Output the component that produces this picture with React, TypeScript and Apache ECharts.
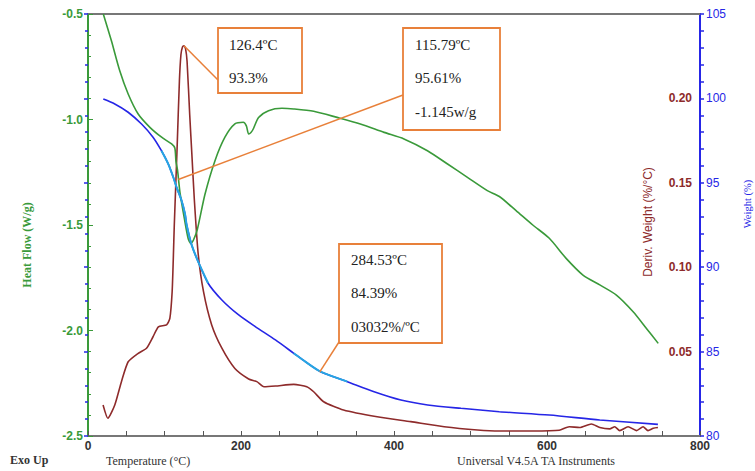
import React, { useEffect, useRef } from 'react';
import * as echarts from 'echarts';

// Heat flow (W/g) vs temperature (°C)
const heatT = [20, 30.6, 41.5, 52.5, 65.6, 80.9, 96.2, 109.3, 113.5, 115, 117, 120.3, 126, 131, 134.5, 138, 143, 153, 166, 179, 192, 203, 207, 210, 213, 216, 223, 236, 253.5, 269, 295, 325.6, 356, 387, 413, 443.7, 470, 496, 522, 537.7, 559.6, 581.4, 603, 625, 647, 669, 690.7, 712.6, 730, 745.4];
const heatV = [-0.5, -0.627, -0.769, -0.879, -0.974, -1.037, -1.084, -1.116, -1.135, -1.2, -1.239, -1.348, -1.47, -1.565, -1.587, -1.57, -1.52, -1.353, -1.195, -1.084, -1.021, -1.013, -1.03, -1.069, -1.062, -1.045, -0.99, -0.958, -0.947, -0.95, -0.961, -0.99, -1.021, -1.061, -1.092, -1.148, -1.211, -1.274, -1.337, -1.365, -1.432, -1.5, -1.563, -1.658, -1.737, -1.784, -1.832, -1.911, -1.99, -2.061];

// Weight (%) vs temperature (°C)
const weightT = [20, 35, 52.5, 70, 85, 96, 105, 111.5, 115.8, 122.4, 126.8, 129, 135.5, 144, 157, 175, 197, 218.6, 245, 269, 284.5, 304, 339, 374, 409, 444, 487.5, 537.7, 603, 669, 745];
const weightV = [99.96, 99.67, 99.18, 98.48, 97.7, 96.9, 96.11, 95.33, 94.73, 93.94, 93.15, 92.5, 91.32, 90.33, 89.05, 88.06, 87.17, 86.48, 85.69, 84.9, 84.39, 83.81, 83.22, 82.62, 82.13, 81.84, 81.64, 81.44, 81.24, 80.95, 80.69];

// Highlighted (cyan) temperature ranges on the weight curve
const highlightRanges = [[96, 157], [260, 345]];

// Derivative weight (%/°C) vs temperature (°C)
const derivT = [19.7, 26, 35, 43.7, 52.5, 65.6, 76.5, 85, 92, 102.7, 107, 110, 111.5, 112.8, 116.5, 119.5, 121.5, 123.5, 125.5, 127.5, 129.5, 133, 136, 139, 144, 151, 161.7, 175, 192, 210, 220.7, 230, 245, 269, 286, 295, 308, 334, 378, 422, 465.6, 509, 537.7, 581, 616, 629, 642.6, 658, 669, 682, 688.5, 695, 706, 717, 725.6, 732, 739, 745];
const derivV = [0.0184, 0.0105, 0.0184, 0.0322, 0.044, 0.049, 0.052, 0.0588, 0.0647, 0.0658, 0.0697, 0.0855, 0.105, 0.125, 0.171, 0.2105, 0.226, 0.2305, 0.2312, 0.2295, 0.222, 0.19, 0.165, 0.14, 0.108, 0.0855, 0.0658, 0.052, 0.04, 0.0338, 0.0322, 0.0292, 0.0296, 0.0306, 0.0292, 0.0262, 0.0203, 0.0154, 0.0114, 0.0085, 0.0055, 0.0036, 0.003, 0.003, 0.0034, 0.0055, 0.005, 0.0071, 0.005, 0.0042, 0.0055, 0.0032, 0.0055, 0.0032, 0.0055, 0.0032, 0.0046, 0.005];

// Annotation texts and the data point each leader line points at
const annoTexts = [
  ['126.4ºC', '93.3%'],
  ['115.79ºC', '95.61%', '-1.145w/g'],
  ['284.53ºC', '84.39%', '03032%/ºC'],
];
const annoAnchors = [
  { t: 125.5, v: 0.2312, axis: 2 },
  { t: 118, v: 95.2, axis: 1 },
  { t: 303, v: 83.8, axis: 1 },
];

// Layout of annotation boxes (pixels)
const boxLayout = [
  { x: 218, y: 28, w: 84, h: 65, lx: 218, ly: 80, tx: 229, ty: [45, 78] },
  { x: 403, y: 28, w: 97, h: 102, lx: 403, ly: 95, tx: 415, ty: [45, 78, 112] },
  { x: 339, y: 244, w: 103, h: 99, lx: 339, ly: 342, tx: 351, ty: [260, 293, 327] },
];

const GREEN = '#3a9a3a';
const BLUE = '#2626e6';
const RED = '#8e2b2b';
const CYAN = '#27a6e2';
const ORANGE = '#e8803a';

export default function App() {
  const ref = useRef<HTMLDivElement>(null);
  useEffect(() => {
    document.body.style.margin = '0';
    if (!ref.current) return;
    const chart = echarts.init(ref.current, undefined, { renderer: 'svg' });
    const zip = (a: number[], b: number[]) => a.map((t, i) => [t, b[i]]);
    const weightData = zip(weightT, weightV);
    const hl = highlightRanges.map(([a, b]) => weightData.filter((p) => p[0] >= a && p[0] <= b));

    const option: any = {
      animation: false,
      backgroundColor: '#fff',
      grid: { left: 88, right: 55, top: 14, bottom: 35, containLabel: false },
      xAxis: [
        {
          type: 'value', min: 0, max: 800, interval: 200,
          axisLine: { show: true, lineStyle: { color: '#777', width: 2 } },
          axisTick: { show: true, inside: true, length: 5, lineStyle: { color: '#555' } },
          minorTick: { show: true, splitNumber: 4, length: 5, lineStyle: { color: '#555' } },
          splitLine: { show: false },
          axisLabel: { color: '#333', fontFamily: 'Arial, Liberation Sans', fontSize: 12, fontWeight: 'bold', margin: 4 },
        },
        {
          type: 'value', min: 0, max: 800, position: 'top',
          axisLine: { show: true, onZero: false, lineStyle: { color: '#777', width: 2 } },
          axisTick: { show: false }, axisLabel: { show: false }, splitLine: { show: false },
        },
      ],
      yAxis: [
        {
          type: 'value', min: -2.5, max: -0.5, interval: 0.5, position: 'left',
          axisLine: { show: true, onZero: false, lineStyle: { color: GREEN, width: 2 } },
          axisTick: { show: true, inside: true, length: 5, lineStyle: { color: GREEN } },
          minorTick: { show: true, splitNumber: 5, length: 3, lineStyle: { color: GREEN } },
          splitLine: { show: false },
          axisLabel: { color: GREEN, fontFamily: 'Arial, Liberation Sans', fontSize: 12, fontWeight: 'bold', margin: 5, formatter: (v: number) => v.toFixed(1) },
        },
        {
          type: 'value', min: 80, max: 105, interval: 5, position: 'right',
          axisLine: { show: true, onZero: false, lineStyle: { color: BLUE, width: 2 } },
          axisTick: { show: true, inside: false, length: 4, lineStyle: { color: BLUE, width: 1.5 } },
          minorTick: { show: true, splitNumber: 5, length: 4, lineStyle: { color: BLUE, width: 1.5 } },
          splitLine: { show: false },
          axisLabel: { color: BLUE, fontFamily: 'Arial, Liberation Sans', fontSize: 12, margin: 6 },
        },
        {
          type: 'value', min: 0, max: 0.25, interval: 0.05, position: 'right',
          axisLine: { show: false },
          axisTick: { show: true, inside: true, length: 4, lineStyle: { color: BLUE, width: 1.5 } },
          minorTick: { show: true, splitNumber: 5, length: 3, lineStyle: { color: BLUE, width: 1.5 } },
          splitLine: { show: false },
          axisLabel: {
            inside: true, color: RED, fontFamily: 'Arial, Liberation Sans', fontSize: 12, fontWeight: 'bold', margin: 8,
            formatter: (v: number) => (v < 0.01 || v > 0.24 ? '' : v.toFixed(2)),
          },
        },
      ],
      series: [
        {
          type: 'line', name: 'Heat Flow', xAxisIndex: 0, yAxisIndex: 0, data: zip(heatT, heatV),
          showSymbol: false, smooth: 0.25, lineStyle: { color: GREEN, width: 1.6 }, z: 3,
        },
        {
          type: 'line', name: 'Deriv. Weight', xAxisIndex: 0, yAxisIndex: 2, data: zip(derivT, derivV),
          showSymbol: false, smooth: 0.2, lineStyle: { color: RED, width: 1.6 }, z: 2,
        },
        {
          type: 'line', name: 'Weight', xAxisIndex: 0, yAxisIndex: 1, data: weightData,
          showSymbol: false, smooth: 0.25, lineStyle: { color: BLUE, width: 1.6 }, z: 4,
        },
        ...hl.map((d, i) => ({
          type: 'line', name: 'hl' + i, xAxisIndex: 0, yAxisIndex: 1, data: d,
          showSymbol: false, smooth: 0.25, lineStyle: { color: CYAN, width: 2 }, z: 5,
        })),
      ],
    };
    chart.setOption(option);

    const graphics: any[] = [];
    annoTexts.forEach((lines, i) => {
      const b = boxLayout[i];
      const a = annoAnchors[i];
      const p = chart.convertToPixel({ xAxisIndex: 0, yAxisIndex: a.axis } as any, [a.t, a.v]) as number[];
      graphics.push({
        type: 'line', z: 50,
        shape: { x1: b.lx, y1: b.ly, x2: p[0], y2: p[1] },
        style: { stroke: ORANGE, lineWidth: 1.5 },
      });
      graphics.push({
        type: 'rect', z: 51,
        shape: { x: b.x, y: b.y, width: b.w, height: b.h },
        style: { fill: '#fff', stroke: ORANGE, lineWidth: 1.8 },
      });
      lines.forEach((s, j) => {
        graphics.push({
          type: 'text', z: 52, x: b.tx, y: b.ty[j],
          style: { text: s, fill: '#222', font: '15px "Liberation Serif", "Times New Roman", serif', textAlign: 'left', textVerticalAlign: 'middle' },
        });
      });
    });
    graphics.push(
      { type: 'text', x: 27, y: 245, rotation: Math.PI / 2, style: { text: 'Heat Flow (W/g)', fill: GREEN, font: 'bold 12px "Liberation Serif", serif', textAlign: 'center', textVerticalAlign: 'middle' } },
      { type: 'text', x: 648, y: 222, rotation: Math.PI / 2, style: { text: 'Deriv. Weight (%/°C)', fill: RED, font: '12px "Liberation Sans", Arial, sans-serif', textAlign: 'center', textVerticalAlign: 'middle' } },
      { type: 'text', x: 747, y: 204, rotation: Math.PI / 2, style: { text: 'Weight (%)', fill: BLUE, font: '10.5px "Liberation Serif", serif', textAlign: 'center', textVerticalAlign: 'middle' } },
      { type: 'text', x: 10, y: 460, style: { text: 'Exo Up', fill: '#333', font: 'bold 12px "Liberation Serif", serif', textAlign: 'left', textVerticalAlign: 'middle' } },
      { type: 'text', x: 106, y: 461, style: { text: 'Temperature (°C)', fill: '#333', font: '12px "Liberation Serif", serif', textAlign: 'left', textVerticalAlign: 'middle' } },
      { type: 'text', x: 457, y: 461, style: { text: 'Universal V4.5A TA Instruments', fill: '#333', font: '12px "Liberation Serif", serif', textAlign: 'left', textVerticalAlign: 'middle' } },
    );
    chart.setOption({ graphic: graphics });
    return () => chart.dispose();
  }, []);
  return <div ref={ref} style={{ position: 'absolute', left: 0, top: 0, width: 755, height: 471 }} />;
}
